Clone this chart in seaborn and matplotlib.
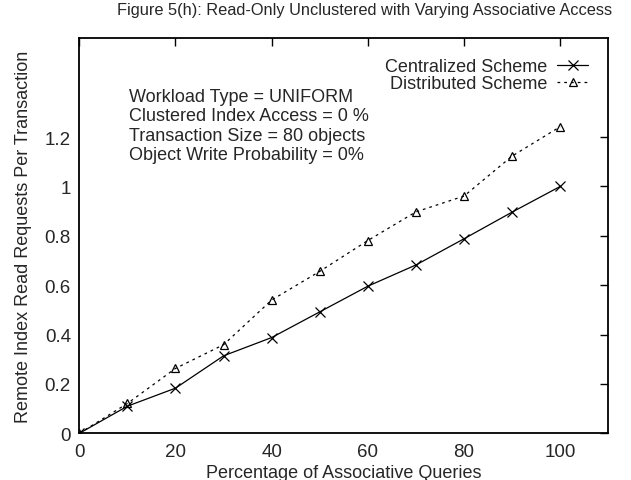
import matplotlib
matplotlib.use("Agg")
import matplotlib.pyplot as plt
from matplotlib.lines import Line2D
import seaborn as sns
import pandas as pd

# Percentage of associative queries and remote index read requests per transaction
pct_assoc = [0, 10, 20, 30, 40, 50, 60, 70, 80, 90, 100]
centralized = [0.0, 0.110, 0.183, 0.314, 0.388, 0.492, 0.596, 0.682, 0.788, 0.896, 1.000]
distributed = [0.0, 0.121, 0.263, 0.359, 0.540, 0.656, 0.781, 0.897, 0.961, 1.123, 1.242]
series_names = ["Centralized Scheme", "Distributed Scheme"]
x_ticks = [0, 20, 40, 60, 80, 100]
y_ticks = [0, 0.2, 0.4, 0.6, 0.8, 1, 1.2]
y_tick_labels = ["0", "0.2", "0.4", "0.6", "0.8", "1", "1.2"]
notes = ["Workload Type = UNIFORM",
         "Clustered Index Access = 0 %",
         "Transaction Size = 80 objects",
         "Object Write Probability = 0%"]

sns.set_theme(style="white")
plt.rcParams["font.family"] = ["Liberation Sans", "DejaVu Sans"]

cent_df = pd.DataFrame({"pct": pct_assoc, "val": centralized})
dist_df = pd.DataFrame({"pct": pct_assoc, "val": distributed})

fig = plt.figure(figsize=(6.31, 4.81), dpi=100)
ax = fig.add_axes([0.1257, 0.0970, 0.8383, 0.8213])

cent_style = dict(color="black", linewidth=0.9, marker="x", markersize=6.5,
                  markerfacecolor="none", markeredgecolor="black", markeredgewidth=0.9)
dist_style = dict(color="black", linewidth=0.9, linestyle=(0, (2.2, 3.2)), marker="^",
                  markersize=5.5, markerfacecolor="none", markeredgecolor="black",
                  markeredgewidth=0.9)

sns.lineplot(data=cent_df, x="pct", y="val", ax=ax, legend=False, **cent_style)
sns.lineplot(data=dist_df, x="pct", y="val", ax=ax, legend=False, **dist_style)

ax.set_xlim(0, 110)
ax.set_ylim(0, 1.6)
ax.set_xticks(x_ticks)
ax.set_yticks(y_ticks)
ax.set_yticklabels(y_tick_labels)
ax.tick_params(axis="both", which="both", direction="in", length=6, width=1,
               top=True, right=True, labelsize=13.5, color="black")
ax.tick_params(axis="x", pad=7)
ax.tick_params(axis="y", pad=6)
for s in ax.spines.values():
    s.set_visible(True)
    s.set_color("black")
    s.set_linewidth(1.3)

ax.set_xlabel("Percentage of Associative Queries", fontsize=13, labelpad=2.5)
ax.set_ylabel("Remote Index Read Requests Per Transaction", fontsize=13, labelpad=9)
fig.text(0.578, 0.993, "Figure 5(h): Read-Only Unclustered with Varying Associative Access",
         ha="center", va="top", fontsize=11.8)

# Legend in the gnuplot layout: label text first, sample after it
handles = [Line2D([], [], **cent_style), Line2D([], [], **dist_style)]
ax.legend(handles, series_names, loc="upper right", bbox_to_anchor=(0.962, 0.950),
          frameon=False, markerfirst=False, fontsize=13, handlelength=1.7,
          handletextpad=0.55, labelspacing=0.0, borderaxespad=0, borderpad=0)

ax.text(0.094, 0.875, "\n".join(notes), transform=ax.transAxes, ha="left", va="top",
        fontsize=13, linespacing=1.2)

fig.savefig("out.png", dpi=100, facecolor="white")
